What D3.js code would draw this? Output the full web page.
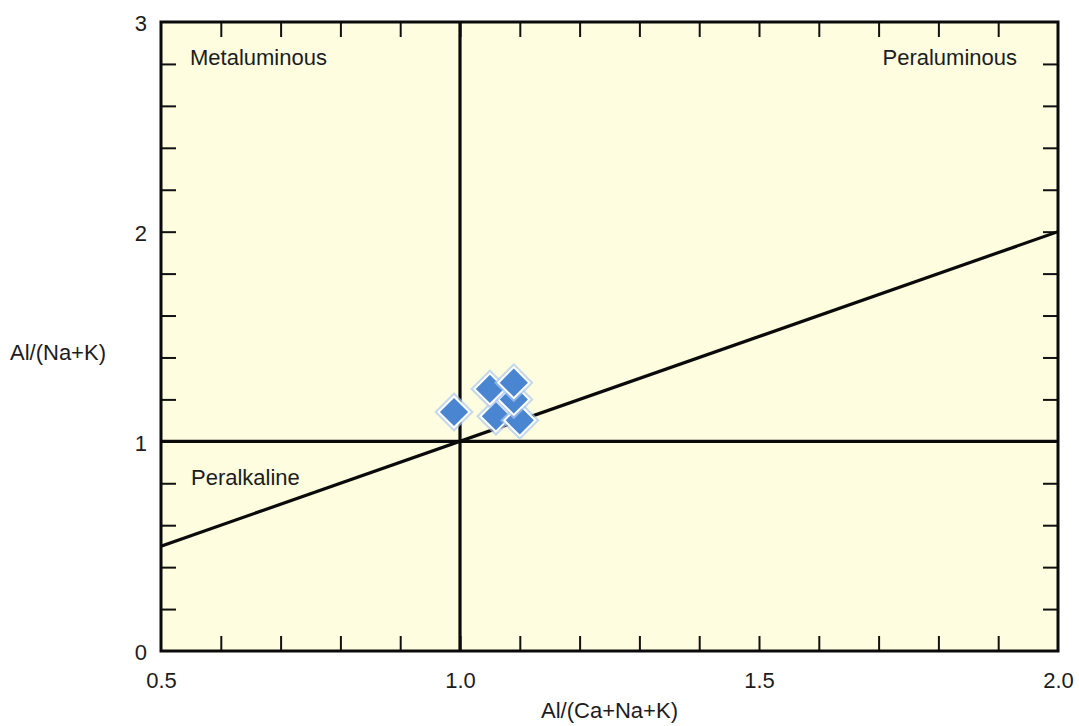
<!DOCTYPE html>
<html>
<head>
<meta charset="utf-8">
<script src="https://cdn.jsdelivr.net/npm/d3@7"></script>
<style>
  html, body { margin: 0; padding: 0; background: #ffffff; }
  svg { display: block; }
  text { font-family: "Liberation Sans", Arial, sans-serif; fill: #1c1c1c; }
</style>
</head>
<body>
<svg id="chart" width="1079" height="726"></svg>
<script>
// Sample compositions: A/CNK (x) and A/NK (y)
const sampleACNK = [0.99, 1.06, 1.10, 1.09, 1.05, 1.09];
const sampleANK  = [1.14, 1.12, 1.10, 1.20, 1.25, 1.28];

// Axis ticks
const xMinorTicks = [0.6, 0.7, 0.8, 0.9, 1.0, 1.1, 1.2, 1.3, 1.4, 1.5, 1.6, 1.7, 1.8, 1.9];
const yMinorTicks = [0.2, 0.4, 0.6, 0.8, 1.0, 1.2, 1.4, 1.6, 1.8, 2.0, 2.2, 2.4, 2.6, 2.8];
const xTickLabels = [0.5, 1.0, 1.5, 2.0];
const yTickLabels = [0, 1, 2, 3];

// Field boundaries: A/CNK = 1, A/NK = 1 and A/NK = A/CNK
const boundaryLines = [
  [[1.0, 0], [1.0, 3]],
  [[0.5, 1.0], [2.0, 1.0]],
  [[0.5, 0.5], [2.0, 2.0]]
];

// Field names
const fieldNames = ["Metaluminous", "Peraluminous", "Peralkaline"];

const svg = d3.select("#chart");
const margin = { left: 161, top: 22, right: 21, bottom: 75 };
const W = 1079, H = 726;

const x = d3.scaleLinear().domain([0.5, 2.0]).range([margin.left, W - margin.right]);
const y = d3.scaleLinear().domain([0, 3]).range([H - margin.bottom, margin.top]);

const clipId = "plot-clip";
svg.append("clipPath").attr("id", clipId)
  .append("rect")
  .attr("x", x(0.5)).attr("y", y(3))
  .attr("width", x(2.0) - x(0.5)).attr("height", y(0) - y(3));

// Plot background
svg.append("rect")
  .attr("x", x(0.5)).attr("y", y(3))
  .attr("width", x(2.0) - x(0.5)).attr("height", y(0) - y(3))
  .attr("fill", "#fefddf");

// Inward tick marks on all four sides
const tickLen = 15;
function styleTicks(g) {
  g.select(".domain").remove();
  g.selectAll(".tick line").attr("stroke", "#111").attr("stroke-width", 2);
  g.selectAll(".tick text").remove();
}
svg.append("g").attr("transform", `translate(0,${y(0)})`)
  .call(d3.axisBottom(x).tickValues(xMinorTicks).tickSize(-tickLen)).call(styleTicks);
svg.append("g").attr("transform", `translate(0,${y(3)})`)
  .call(d3.axisTop(x).tickValues(xMinorTicks).tickSize(-tickLen)).call(styleTicks);
svg.append("g").attr("transform", `translate(${x(0.5)},0)`)
  .call(d3.axisLeft(y).tickValues(yMinorTicks).tickSize(-tickLen)).call(styleTicks);
svg.append("g").attr("transform", `translate(${x(2.0)},0)`)
  .call(d3.axisRight(y).tickValues(yMinorTicks).tickSize(-tickLen)).call(styleTicks);

// Tick labels
const xLab = svg.append("g").attr("transform", `translate(0,${y(0)})`)
  .call(d3.axisBottom(x).tickValues(xTickLabels).tickSize(0).tickPadding(21).tickFormat(d3.format(".1f")));
xLab.select(".domain").remove();
xLab.selectAll(".tick text").attr("font-size", 22).attr("fill", "#1c1c1c")
  .style("font-family", "'Liberation Sans', Arial, sans-serif");

const yLab = svg.append("g").attr("transform", `translate(${x(0.5)},0)`)
  .call(d3.axisLeft(y).tickValues(yTickLabels).tickSize(0).tickPadding(14).tickFormat(d3.format("d")));
yLab.select(".domain").remove();
yLab.selectAll(".tick text").attr("font-size", 22).attr("fill", "#1c1c1c").attr("dy", "0.4em")
  .style("font-family", "'Liberation Sans', Arial, sans-serif");

// Boundary lines
const line = d3.line().x(d => x(d[0])).y(d => y(d[1]));
svg.append("g").attr("clip-path", `url(#${clipId})`)
  .selectAll("path").data(boundaryLines).join("path")
  .attr("d", line)
  .attr("fill", "none").attr("stroke", "#0a0a0a").attr("stroke-width", 3.2);

// Frame
svg.append("rect")
  .attr("x", x(0.5)).attr("y", y(3))
  .attr("width", x(2.0) - x(0.5)).attr("height", y(0) - y(3))
  .attr("fill", "none").attr("stroke", "#0a0a0a").attr("stroke-width", 3);

// Field labels
svg.append("text").attr("x", x(0.5) + 29).attr("y", y(3) + 43)
  .attr("font-size", 22).text(fieldNames[0]);
svg.append("text").attr("x", x(2.0) - 41).attr("y", y(3) + 43)
  .attr("font-size", 22).attr("text-anchor", "end").text(fieldNames[1]);
svg.append("text").attr("x", x(0.5) + 30).attr("y", y(1) + 44)
  .attr("font-size", 22).text(fieldNames[2]);

// Samples as blue diamonds with a pale halo
const samples = sampleACNK.map((v, i) => [v, sampleANK[i]]);
const diamond = d3.symbol().type(d3.symbolSquare).size(480);
const pts = svg.append("g").selectAll("g").data(samples).join("g")
  .attr("transform", d => `translate(${x(d[0])},${y(d[1])}) rotate(45)`);
pts.append("path").attr("d", diamond)
  .attr("fill", "none").attr("stroke", "#a9c8ee").attr("stroke-width", 6).attr("stroke-opacity", 0.7);
pts.append("path").attr("d", diamond)
  .attr("fill", "#4a85d2").attr("stroke", "#ffffff").attr("stroke-width", 2);

// Axis titles
svg.append("text").attr("x", 10).attr("y", 360)
  .attr("font-size", 22).text("Al/(Na+K)");
svg.append("text").attr("x", (x(0.5) + x(2.0)) / 2).attr("y", 718)
  .attr("font-size", 22).attr("text-anchor", "middle").text("Al/(Ca+Na+K)");
</script>
</body>
</html>
